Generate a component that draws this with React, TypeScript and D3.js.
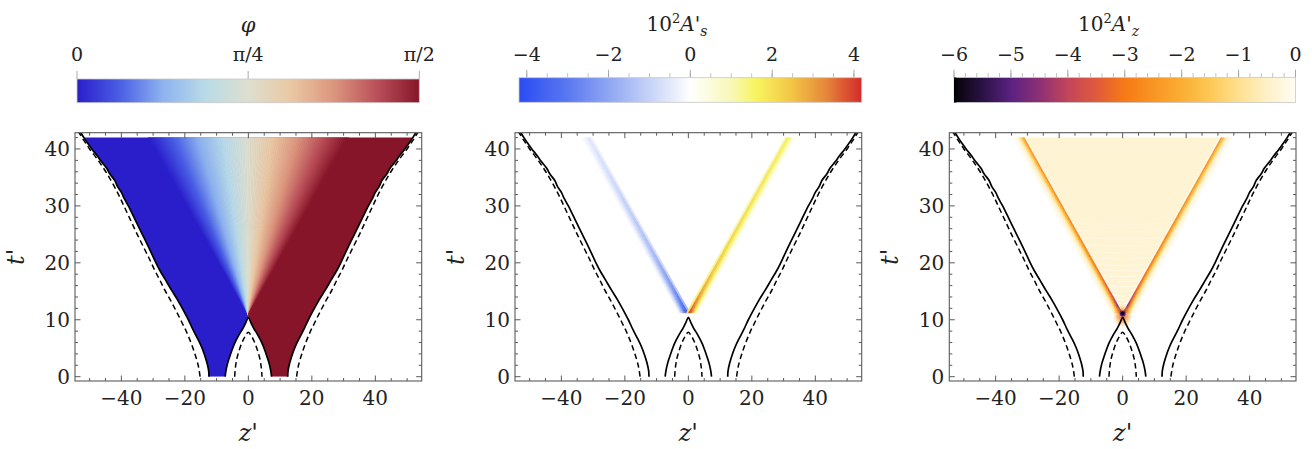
import * as d3 from "d3";

const W = 1312;
const H = 449;
const SERIF = "DejaVu Serif, Liberation Serif, serif";

// ---- axes ----
const zDomain: [number, number] = [-54.6, 54.6];
const tDomain: [number, number] = [-0.76, 42.86];
const zMajorTicks = [-40, -20, 0, 20, 40];
const tMajorTicks = [0, 10, 20, 30, 40];

// panel boxes (px)
const PANEL_LEFT = [75, 515, 949.3];
const PANEL_W = 346.7;
const PANEL_TOP = 132.7;
const PANEL_BOTTOM = 381;

// ---- boundary curves, left half (z, t) bottom -> top ----
const outerSolid: [number, number][] = [
  [-12.4, 0], [-12.5, 1], [-13.0, 2.35], [-13.9, 4], [-14.8, 5.3], [-16.0, 6.7], [-17.4, 8.2],
  [-18.9, 10], [-20.5, 11.7], [-22.3, 13.5], [-24.2, 15.2], [-26.1, 17], [-27.9, 18.7],
  [-29.1, 20], [-31.2, 22.5], [-33.4, 25], [-35.6, 27.5], [-37.8, 30], [-39.2, 31.4],
  [-39.9, 32.3], [-41.2, 33.4], [-42.1, 34.5], [-43.6, 35.6], [-44.6, 36.6], [-46.3, 37.8],
  [-47.6, 38.8], [-49.3, 40], [-50.6, 41], [-51.8, 42], [-52.8, 42.9],
];
const outerDashed: [number, number][] = [
  [-15.2, 0], [-15.8, 2], [-16.9, 4.1], [-18.1, 6], [-19.5, 7.9], [-21.0, 9.6], [-22.6, 11.4],
  [-24.4, 13.3], [-26.3, 15.2], [-27.9, 17], [-29.5, 18.7], [-31.0, 20.5], [-32.6, 22.3],
  [-35.0, 25], [-37.1, 27.5], [-39.2, 30], [-40.9, 32], [-42.8, 34], [-44.9, 36], [-47.3, 38],
  [-50.0, 40], [-51.2, 41], [-52.4, 42], [-53.4, 42.9],
];
// inner cusp, right half (z, t) bottom -> apex
const innerSolid: [number, number][] = [
  [7.3, 0], [7.1, 0.9], [6.6, 2.2], [6.0, 3.3], [5.2, 4.6], [4.3, 5.9], [3.0, 7.3], [1.7, 8.5], [0.8, 9.5], [0, 10.4],
];
const innerDashed: [number, number][] = [
  [4.3, 0], [4.1, 1.5], [3.6, 3.2], [2.9, 4.6], [2.0, 6.0], [1.1, 7.0], [0, 7.8],
];

// ---- fields ----
const T_TOP = 42;
const PHI_APEX_T = 10.8;
const PHI_CONE_Z = 31.5; // half width of the phi gradient cone at t = 42
const WAVE_APEX_T = 11.1;
const WAVE_CONE_Z = 31; // wavefront |z| at t = 42

const bandT = [11.2, 12, 13.5, 15, 18, 22, 28, 35, 42];
const bandSLeft = [-4.0, -3.5, -3.0, -2.6, -2.1, -1.6, -1.2, -0.85, -0.55];
const bandSRight = [4.1, 3.7, 3.3, 3.0, 2.6, 2.3, 2.1, 1.9, 1.75];
const bandZEdge = [-6.0, -4.8, -4.0, -3.5, -3.1, -2.85, -2.65, -2.5, -2.4];
const bandZInside = -0.36;
// faint ringing lines inside the A_z cone
const ringT = [12.4, 13.0, 13.7, 14.4, 15.2, 16.0, 16.9, 17.8, 18.8, 19.8, 20.9, 22.0, 23.2, 24.4, 25.7, 27.0];

const sProfileOffset = [-0.7, -0.2, 0.3, 0.8, 1.3, 1.8, 2.3];
const sProfileGain = [0.5, 1, 0.92, 0.72, 0.48, 0.26, 0.1];
const zProfileOffset = [-0.1, 0.4, 0.9, 1.4, 1.9, 2.4, 2.9];
const zProfileGain = [1, 0.72, 0.45, 0.26, 0.13, 0.06, 0.03];

// ---- colour maps ----
const phiVals = [0, 0.125, 0.25, 0.375, 0.5, 0.625, 0.75, 0.875, 1].map((f) => (f * Math.PI) / 2);
const phiColors = ["#2A1ECB", "#4A5EE4", "#8DB2EF", "#B9DBE8", "#DDDFCF", "#EAC8A4", "#DC967E", "#BA505A", "#871529"];
const sVals = [-4.19, -3, -2, -1, 0, 1, 1.6, 2.5, 3.3, 4.19];
const sColors = ["#2A4CF2", "#5A78F0", "#8FA6F2", "#C6D2F8", "#FFFFFF", "#F8F8B8", "#F8F560", "#F2C444", "#E6883A", "#D42A2A"];
const zVals = [-6, -5.5, -5, -4.5, -4, -3.5, -3, -2.5, -2, -1.5, -1, -0.5, 0];
const zColors = ["#050308", "#2A1245", "#5B2181", "#8C3075", "#C2455A", "#E05A3C", "#F67A15", "#F99522", "#FBAE33", "#FDC856", "#FEE08E", "#FEF1C8", "#FFFCF2"];

// ---- colour bars ----
const phiTickVals = [0, Math.PI / 4, Math.PI / 2];
const phiTickLabels = ["0", "π/4", "π/2"];
const sTickVals = [-4, -2, 0, 2, 4];
const zTickVals = [-6, -5, -4, -3, -2, -1, 0];

const cmap = (vals: number[], colors: string[]) =>
  d3.scaleLinear<string>().domain(vals).range(colors).interpolate(d3.interpolateRgb).clamp(true);
const phiColor = cmap(phiVals, phiColors);
const sColor = cmap(sVals, sColors);
const zColor = cmap(zVals, zColors);

const fmt = d3.format("d");

type Pt = [number, number];
const mirror = (p: Pt[]): Pt[] => p.map(([z, t]) => [-z, t] as Pt);

function ColorBar({ id, x0, x1, y0, y1, domain, color, major, labels, minor, title, blackEdge }: {
  id: string; x0: number; x1: number; y0: number; y1: number; domain: [number, number];
  color: (v: number) => string; major: number[]; labels: string[]; minor: number[];
  title: React.ReactNode; blackEdge?: boolean;
}) {
  const x = d3.scaleLinear().domain(domain).range([x0, x1]);
  const stops = d3.range(0, 1.0001, 1 / 60);
  return (
    <g>
      <defs>
        <linearGradient id={id} x1="0" x2="1" y1="0" y2="0">
          {stops.map((f, i) => (
            <stop key={i} offset={f} stopColor={color(domain[0] + f * (domain[1] - domain[0]))} />
          ))}
        </linearGradient>
      </defs>
      {minor.map((v, i) => (
        <line key={"m" + i} x1={x(v)} x2={x(v)} y1={y0 - 4.5} y2={y0} stroke="#b4b4b4" strokeWidth={0.8} />
      ))}
      {major.map((v, i) => (
        <line key={"M" + i} x1={x(v)} x2={x(v)} y1={y0 - 8} y2={y0} stroke="#a0a0a0" strokeWidth={0.9} />
      ))}
      <rect x={x0} y={y0} width={x1 - x0} height={y1 - y0} fill={`url(#${id})`} stroke="#c8c8c8" strokeWidth={0.8} />
      {blackEdge && <rect x={x0} y={y0} width={2.4} height={y1 - y0} fill="#000" />}
      {major.map((v, i) => (
        <text key={"l" + i} x={x(v)} y={60.5} textAnchor="middle" fontSize={19} fill="#222">
          {labels[i]}
        </text>
      ))}
      {title}
    </g>
  );
}

function Panel({ idx }: { idx: number }) {
  const left = PANEL_LEFT[idx];
  const x = d3.scaleLinear().domain(zDomain).range([left, left + PANEL_W]);
  const y = d3.scaleLinear().domain(tDomain).range([PANEL_BOTTOM, PANEL_TOP]);
  const smooth = d3.line<Pt>().x((d) => x(d[0])).y((d) => y(d[1])).curve(d3.curveCatmullRom);
  const poly = d3.line<Pt>().x((d) => x(d[0])).y((d) => y(d[1]));

  const leftOuter = outerSolid;
  const rightOuter = mirror(outerSolid);
  const innerFull: Pt[] = [...mirror(innerSolid), ...innerSolid.slice(0, -1).reverse()];
  const innerDashFull: Pt[] = [...mirror(innerDashed), ...innerDashed.slice(0, -1).reverse()];

  const cx = left + PANEL_W / 2;
  const frameH = PANEL_BOTTOM - PANEL_TOP;

  let field: React.ReactNode = null;

  if (idx === 0) {
    const region: Pt[] = [...leftOuter, ...rightOuter.slice().reverse(), ...innerFull.slice().reverse()];
    const N = 100;
    const k = 1.06;
    const tt = PHI_APEX_T + (T_TOP - PHI_APEX_T) * k;
    const wedges = d3.range(N).map((i) => {
      const r0 = -1 + (2 * i) / N;
      const r1 = -1 + (2 * (i + 1)) / N;
      const rm = (r0 + r1) / 2;
      const pts: Pt[] = [
        [0, PHI_APEX_T],
        [r0 * PHI_CONE_Z * k, tt],
        [r1 * PHI_CONE_Z * k, tt],
      ];
      const col = phiColor((Math.PI / 4) * (1 + rm));
      return <path key={i} d={poly(pts) + "Z"} fill={col} stroke={col} strokeWidth={0.8} strokeLinejoin="bevel" />;
    });
    field = (
      <g>
        <defs>
          <clipPath id="phiRegion"><path d={poly(region) + "Z"} /></clipPath>
          <clipPath id="phiT"><rect x={left} y={y(T_TOP)} width={PANEL_W} height={y(0) - y(T_TOP)} /></clipPath>
        </defs>
        <g clipPath="url(#phiT)">
          <g clipPath="url(#phiRegion)">
            <rect x={x(-60)} y={y(44)} width={x(0) - x(-60)} height={y(-1) - y(44)} fill={phiColor(0)} />
            <rect x={x(0)} y={y(44)} width={x(60) - x(0)} height={y(-1) - y(44)} fill={phiColor(Math.PI / 2)} />
            {wedges}
          </g>
        </g>
      </g>
    );
  } else {
    const c = WAVE_CONE_Z / (T_TOP - WAVE_APEX_T);
    const steps = d3.range(bandT[0], T_TOP + 0.6, 0.5);
    const strip = (s: number, o: number, w: number, ta: number, tb: number): Pt[] => [
      [s * (c * (ta - WAVE_APEX_T) + o), ta],
      [s * (c * (tb - WAVE_APEX_T) + o), tb],
      [s * (c * (tb - WAVE_APEX_T) + o + w), tb],
      [s * (c * (ta - WAVE_APEX_T) + o + w), ta],
    ];
    const bands: React.ReactNode[] = [];
    if (idx === 1) {
      const ampL = d3.scaleLinear().domain(bandT).range(bandSLeft).clamp(true);
      const ampR = d3.scaleLinear().domain(bandT).range(bandSRight).clamp(true);
      const sides: [number, (t: number) => number][] = [[-1, ampL], [1, ampR]];
      sides.forEach(([s, amp]) => {
        sProfileOffset.slice().reverse().forEach((o, kk) => {
          const g = sProfileGain[sProfileOffset.length - 1 - kk];
          steps.slice(0, -1).forEach((ta, j) => {
            const tb = steps[j + 1];
            const col = sColor(amp((ta + tb) / 2) * g);
            bands.push(
              <path key={`${s}-${kk}-${j}`} d={poly(strip(s, o, 0.5, ta, tb)) + "Z"} fill={col} stroke={col} strokeWidth={0.4} />
            );
          });
        });
      });
    } else {
      const amp = d3.scaleLinear().domain(bandT).range(bandZEdge).clamp(true);
      const tt = T_TOP + 1;
      const inside: Pt[] = [[0, WAVE_APEX_T], [-c * (tt - WAVE_APEX_T), tt], [c * (tt - WAVE_APEX_T), tt]];
      bands.push(<path key="in" d={poly(inside) + "Z"} fill={zColor(bandZInside)} />);
      ringT.forEach((t, i) => {
        const half = c * (t - WAVE_APEX_T) - 0.6;
        const sag = 0.25;
        const pts: Pt[] = [[-half, t], [0, t - sag], [half, t]];
        bands.push(
          <path key={`r${i}`} d={d3.line<Pt>().x((d) => x(d[0])).y((d) => y(d[1])).curve(d3.curveNatural)(pts) ?? ""}
            fill="none" stroke="#ffffff" strokeWidth={0.9} opacity={0.75 - i * 0.035} />
        );
      });
      [-1, 1].forEach((s) => {
        zProfileOffset.slice().reverse().forEach((o, kk) => {
          const g = zProfileGain[zProfileOffset.length - 1 - kk];
          steps.slice(0, -1).forEach((ta, j) => {
            const tb = steps[j + 1];
            const col = zColor(amp((ta + tb) / 2) * g);
            bands.push(
              <path key={`${s}-${kk}-${j}`} d={poly(strip(s, o, 0.5, ta, tb)) + "Z"} fill={col} stroke={col} strokeWidth={0.4} />
            );
          });
        });
        bands.push(
          <path key={`w${s}`} d={poly(strip(s, -0.55, 0.4, WAVE_APEX_T + 0.8, tt)) + "Z"} fill="#fffdf6" opacity={0.85} />
        );
      });
      bands.push(
        <g key="apex">
          <defs>
            <radialGradient id="apexGlow">
              <stop offset="0" stopColor={zColor(-3.8)} stopOpacity={0.95} />
              <stop offset="0.5" stopColor={zColor(-2.8)} stopOpacity={0.6} />
              <stop offset="1" stopColor={zColor(-1.5)} stopOpacity={0} />
            </radialGradient>
          </defs>
          <ellipse cx={x(0)} cy={y(WAVE_APEX_T - 0.4)} rx={10} ry={12} fill="url(#apexGlow)" />
          <circle cx={x(0)} cy={y(WAVE_APEX_T)} r={3} fill={zColor(-5)} />
          <circle cx={x(0)} cy={y(WAVE_APEX_T)} r={1.8} fill={zColor(-6)} />
        </g>
      );
    }
    field = (
      <g>
        <defs>
          <clipPath id={`waveT${idx}`}><rect x={left} y={y(T_TOP)} width={PANEL_W} height={y(0) - y(T_TOP)} /></clipPath>
        </defs>
        <g clipPath={`url(#waveT${idx})`}>{bands}</g>
      </g>
    );
  }

  const zMinor = d3.range(-50, 51, 5);
  const tMinor = d3.range(0, 43, 2);

  return (
    <g>
      <defs>
        <clipPath id={`frame${idx}`}><rect x={left} y={PANEL_TOP} width={PANEL_W} height={frameH} /></clipPath>
      </defs>
      <g clipPath={`url(#frame${idx})`}>
        {field}
        {[leftOuter, rightOuter, innerFull].map((p, i) => (
          <path key={"s" + i} d={smooth(p) ?? ""} fill="none" stroke="#000" strokeWidth={1.7} strokeLinejoin="round" />
        ))}
        {[outerDashed, mirror(outerDashed), innerDashFull].map((p, i) => (
          <path key={"d" + i} d={smooth(p) ?? ""} fill="none" stroke="#000" strokeWidth={1.5} strokeDasharray="5.5,3.5" />
        ))}
      </g>
      <rect x={left} y={PANEL_TOP} width={PANEL_W} height={frameH} fill="none" stroke="#5a5a5a" strokeWidth={1.1} />
      {zMinor.map((v) => {
        const len = v % 20 === 0 ? 5.5 : 3;
        return (
          <g key={"zt" + v}>
            <line x1={x(v)} x2={x(v)} y1={PANEL_BOTTOM} y2={PANEL_BOTTOM - len} stroke="#5a5a5a" />
            <line x1={x(v)} x2={x(v)} y1={PANEL_TOP} y2={PANEL_TOP + len} stroke="#5a5a5a" />
          </g>
        );
      })}
      {tMinor.map((v) => {
        const len = v % 10 === 0 ? 5.5 : 3;
        return (
          <g key={"tt" + v}>
            <line x1={left} x2={left + len} y1={y(v)} y2={y(v)} stroke="#5a5a5a" />
            <line x1={left + PANEL_W} x2={left + PANEL_W - len} y1={y(v)} y2={y(v)} stroke="#5a5a5a" />
          </g>
        );
      })}
      {zMajorTicks.map((v) => (
        <text key={"zl" + v} x={x(v)} y={405} textAnchor="middle" fontSize={20} fill="#222">
          {fmt(v)}
        </text>
      ))}
      {tMajorTicks.map((v) => (
        <text key={"tl" + v} x={left - 5} y={y(v)} dy="0.36em" textAnchor="end" fontSize={20} fill="#222">
          {fmt(v)}
        </text>
      ))}
      <text x={cx} y={441} textAnchor="middle" fontSize={24} fill="#222">
        <tspan fontStyle="italic">z</tspan>'
      </text>
      <text transform={`translate(${left - 51},${(PANEL_TOP + PANEL_BOTTOM) / 2}) rotate(-90)`} textAnchor="middle"
        fontSize={24} fill="#222">
        <tspan fontStyle="italic">t</tspan>'
      </text>
    </g>
  );
}

export default function App() {
  return (
    <svg width={W} height={H} viewBox={`0 0 ${W} ${H}`}
      style={{ position: "absolute", left: 0, top: 0, background: "#fff", fontFamily: SERIF }}>
      <rect width={W} height={H} fill="#fff" />
      <ColorBar id="cbPhi" x0={77} x1={419.3} y0={79} y1={102.7} domain={[0, Math.PI / 2]} color={phiColor}
        major={phiTickVals} labels={phiTickLabels} minor={[]}
        title={<text x={248} y={32} textAnchor="middle" fontSize={21} fontStyle="italic" fill="#222">φ</text>} />
      <ColorBar id="cbS" x0={519} x1={861.7} y0={77.7} y1={102.3} domain={[-4.19, 4.19]} color={sColor}
        major={sTickVals} labels={sTickVals.map(fmt)} minor={d3.range(-4, 4.01, 0.5)}
        title={
          <text x={677} y={31} textAnchor="middle" fontSize={20} fill="#222">
            10<tspan dy={-8} fontSize={13}>2</tspan><tspan dy={8} fontStyle="italic">A</tspan>'<tspan dy={5} fontSize={14} fontStyle="italic">s</tspan>
          </text>
        } />
      <ColorBar id="cbZ" x0={954} x1={1295.5} y0={77.5} y1={102.5} domain={[-6, 0]} color={zColor}
        major={zTickVals} labels={zTickVals.map(fmt)} minor={d3.range(-6, 0.01, 0.2)} blackEdge
        title={
          <text x={1108.5} y={31} textAnchor="middle" fontSize={20} fill="#222">
            10<tspan dy={-8} fontSize={13}>2</tspan><tspan dy={8} fontStyle="italic">A</tspan>'<tspan dy={5} fontSize={14} fontStyle="italic">z</tspan>
          </text>
        } />
      {[0, 1, 2].map((i) => <Panel key={i} idx={i} />)}
    </svg>
  );
}
